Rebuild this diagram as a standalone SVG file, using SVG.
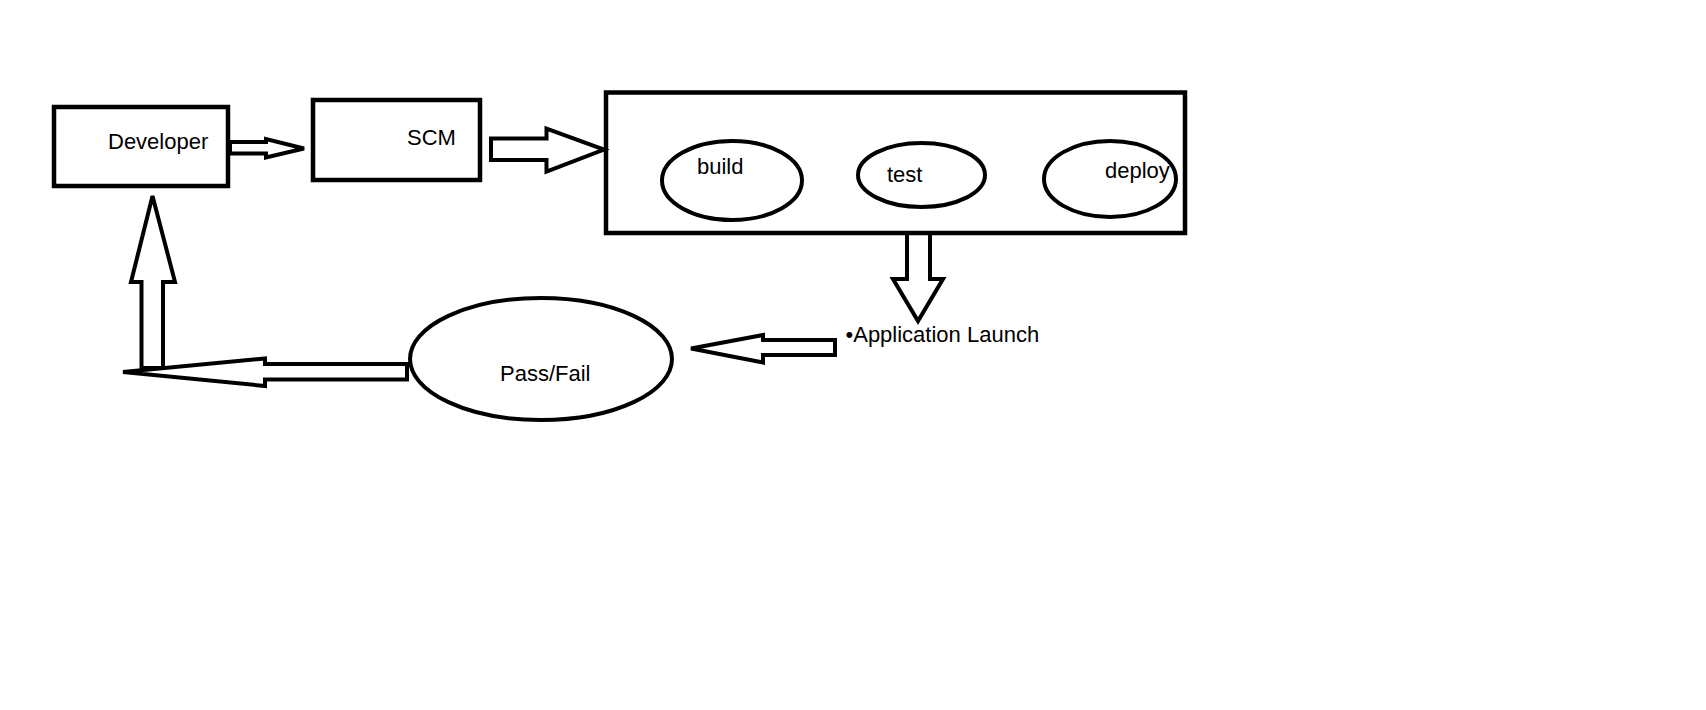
<svg xmlns="http://www.w3.org/2000/svg" width="1706" height="710" viewBox="0 0 1706 710">
<style>
.box{fill:none;stroke:#000;stroke-width:4.5}
.ell{fill:none;stroke:#000;stroke-width:4}
.arr{fill:#fff;stroke:#000;stroke-width:4;stroke-linejoin:miter}
.lbl{font-family:"Liberation Sans",Arial,sans-serif;font-size:22px;fill:#000}
</style>
<rect width="1706" height="710" fill="#fff"/>
<g id="connectors">
<polygon class="arr" points="230,142 266,142 266,139 304,148.5 266,157.5 266,153.5 230,153.5"/>
<polygon class="arr" points="491,138.5 546.5,138.5 546.5,128.5 604,149.5 546.5,171.5 546.5,160 491,160"/>
<polyline class="arr" points="907,235 907,279 893,279 918,321 943,279 930,279 930,235"/>
<polygon class="arr" points="835,340 763,340 763,335 691,348.5 763,362.5 763,355 835,355"/>
<polygon class="arr" points="141.5,368 141.5,282 131,282 152.5,196 175,282 163,282 163,368"/>
<polygon class="arr" points="407,364 265,364 265,358.5 123,372 265,386 265,379.5 407,379.5"/>
</g>
<g id="developer">
<rect class="box" x="54" y="107" width="174" height="79"/>
<text class="lbl" x="108" y="149">Developer</text>
</g>
<g id="scm">
<rect class="box" x="313" y="100" width="167" height="80"/>
<text class="lbl" x="407" y="145">SCM</text>
</g>
<g id="pipeline">
<rect class="box" x="606" y="92.5" width="579" height="140.5"/>
</g>
<g id="build">
<ellipse class="ell" cx="732" cy="180.5" rx="70" ry="39.5"/>
<text class="lbl" x="697" y="174">build</text>
</g>
<g id="test">
<ellipse class="ell" cx="921.5" cy="175" rx="63.5" ry="32"/>
<text class="lbl" x="887" y="182">test</text>
</g>
<g id="deploy">
<ellipse class="ell" cx="1110" cy="179" rx="66" ry="38"/>
<text class="lbl" x="1105" y="178">deploy</text>
</g>
<g id="app-launch">
<text class="lbl" x="845.5" y="342">•Application Launch</text>
</g>
<g id="passfail">
<ellipse class="ell" cx="541" cy="359" rx="131" ry="61"/>
<text class="lbl" x="500" y="381">Pass/Fail</text>
</g>
</svg>
